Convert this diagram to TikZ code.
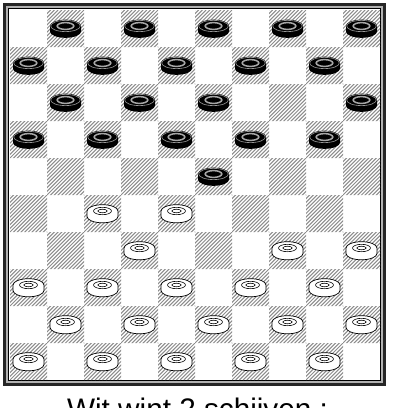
\documentclass[tikz,border=0pt]{standalone}
\usepackage{fontspec}
\setmainfont{Liberation Sans}
\begin{document}
\begin{tikzpicture}[x=1pt,y=-1pt]%
% 10x10 draughts board, 37 units a square, origin top left, y down
\useasboundingbox (0,0) rectangle (405,408);
\def\manbody(#1,#2){(#1-15.5,#2-2.5) -- (#1-15.5,#2+3)
 arc[start angle=180,end angle=0,x radius=15.5,y radius=6.3]
 -- (#1+15.5,#2-2.5)
 arc[start angle=0,end angle=-180,x radius=15.5,y radius=6.3] -- cycle}
\def\blackman(#1,#2){%
\fill[black] \manbody(#1,#2);
\draw[black!40,line width=0.6bp] (#1,#2-2.5) ellipse[x radius=14.8,y radius=5.6];
\draw[black!35,line width=1.5bp] (#1,#2-2.5) ellipse[x radius=8.3,y radius=3.4];}
\def\whiteman(#1,#2){%
\filldraw[fill=white,line width=0.7bp] \manbody(#1,#2);
\draw[line width=0.6bp] (#1,#2-2.5) ellipse[x radius=9,y radius=3.7];
\draw[line width=0.6bp] (#1,#2-2.5) ellipse[x radius=4.6,y radius=1.8];}
% frame
\fill[black!30] (3.5,3.5) rectangle (385.5,385.5);
\draw[black!85,line width=2.2bp] (4.5,4.5) rectangle (384.5,384.5);
\fill[white] (8.5,8.5) rectangle (380.5,380.5);
\draw[line width=0.8bp] (8.5,8.5) rectangle (380.5,380.5);
% dark squares, hatched
\begin{scope}
\clip \foreach \r in {0,...,9}{\foreach \c in {0,2,4,6,8}{
 ({10+37*(\c+1-mod(\r,2))},{10+37*\r}) rectangle ++(37,37)}};
\foreach \k in {-370,-366.3,...,370}
 \draw[black!45,line width=1bp] (10+\k,380) -- (380+\k,10);
\end{scope}
% black men
\blackman(65.5,28.5)
\blackman(139.5,28.5)
\blackman(213.5,28.5)
\blackman(287.5,28.5)
\blackman(361.5,28.5)
\blackman(28.5,65.5)
\blackman(102.5,65.5)
\blackman(176.5,65.5)
\blackman(250.5,65.5)
\blackman(324.5,65.5)
\blackman(65.5,102.5)
\blackman(139.5,102.5)
\blackman(213.5,102.5)
\blackman(361.5,102.5)
\blackman(28.5,139.5)
\blackman(102.5,139.5)
\blackman(176.5,139.5)
\blackman(250.5,139.5)
\blackman(324.5,139.5)
\blackman(213.5,176.5)
% white men
\whiteman(102.5,213.5)
\whiteman(176.5,213.5)
\whiteman(139.5,250.5)
\whiteman(287.5,250.5)
\whiteman(361.5,250.5)
\whiteman(28.5,287.5)
\whiteman(102.5,287.5)
\whiteman(176.5,287.5)
\whiteman(250.5,287.5)
\whiteman(324.5,287.5)
\whiteman(65.5,324.5)
\whiteman(139.5,324.5)
\whiteman(213.5,324.5)
\whiteman(287.5,324.5)
\whiteman(361.5,324.5)
\whiteman(28.5,361.5)
\whiteman(102.5,361.5)
\whiteman(176.5,361.5)
\whiteman(250.5,361.5)
\whiteman(324.5,361.5)
\node[font=\fontsize{29.7}{34}\selectfont,anchor=base,inner sep=0pt] (caption) at (197.5,419.3) {Wit wint 2 schijven :};
\end{tikzpicture}
\end{document}
